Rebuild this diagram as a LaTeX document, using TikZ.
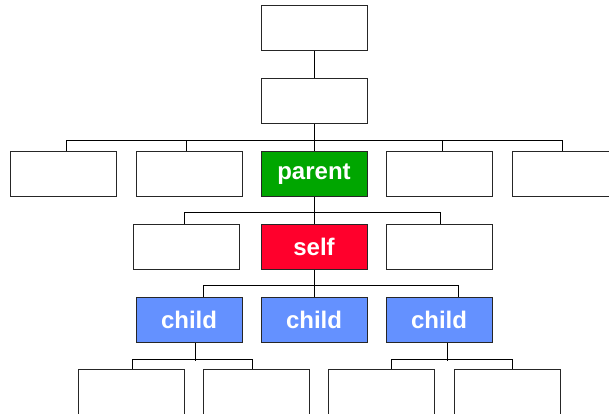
\documentclass[tikz,border=0pt]{standalone}
\usepackage{fontspec}
\newfontfamily\boxfont{Liberation Sans}
\definecolor{parentgreen}{RGB}{0,166,0}
\definecolor{selfred}{RGB}{255,0,44}
\definecolor{childblue}{RGB}{100,145,255}

\tikzset{%
  member/.style={
    rectangle,
    draw=black!85,
    line width=1pt,
    fill=white,
    minimum width=106pt,
    minimum height=45pt,
    inner sep=0pt,
    text=white,
    font=\boxfont\bfseries\fontsize{24}{28}\selectfont
  },
  link/.style={
    line width=1pt
  },
}

\begin{document}
\begin{tikzpicture}[x=1pt,y=-1pt]
\useasboundingbox (0,0) rectangle (609,414);
\clip (0,0) rectangle (609,414);
% ancestors
\node[member] (grand) at (314,28.5) {};
\node[member] (upper) at (314,101) {};
% level of parent
\node[member] (p1) at (63,174) {};
\node[member] (p2) at (189,174) {};
\node[member,fill=parentgreen] (parent) at (314,174) {parent};
\node[member] (p4) at (439,174) {};
\node[member] (p5) at (565,174) {};
% level of self
\node[member] (s1) at (186,246.5) {};
\node[member,fill=selfred] (self) at (314,246.5) {self};
\node[member] (s3) at (439,246.5) {};
% children
\node[member,fill=childblue] (c1) at (189,319.5) {child};
\node[member,fill=childblue] (c2) at (314,319.5) {child};
\node[member,fill=childblue] (c3) at (439,319.5) {child};
% grandchildren
\node[member] (g1) at (131,391.5) {};
\node[member] (g2) at (256,391.5) {};
\node[member] (g3) at (381,391.5) {};
\node[member] (g4) at (507,391.5) {};

\draw[link] (grand) -- (upper);
\draw[link] (upper) -- (parent);
\draw[link] ([xshift=3]p1.north) -- ++(0,-10) -| ([xshift=-3]p5.north);
\draw[link] ([xshift=-3]p2.north) -- ++(0,-10);
\draw[link] ([xshift=3]p4.north) -- ++(0,-10);

\draw[link] (parent) -- (self);
\draw[link] ([xshift=-2]s1.north) -- ++(0,-11) -| ([xshift=1]s3.north);

\draw[link] (self) -- (c2);
\draw[link] ([xshift=14]c1.north) -- ++(0,-11) -| ([xshift=19]c3.north);

\draw[link] ([xshift=6]c1.south) -- ++(0,18);
\draw[link] ([xshift=1]g1.north) -- ++(0,-9) -| ([xshift=-4]g2.north);
\draw[link] ([xshift=8]c3.south) -- ++(0,18);
\draw[link] ([xshift=10]g3.north) -- ++(0,-9) -| ([xshift=5]g4.north);
\end{tikzpicture}
\end{document}
